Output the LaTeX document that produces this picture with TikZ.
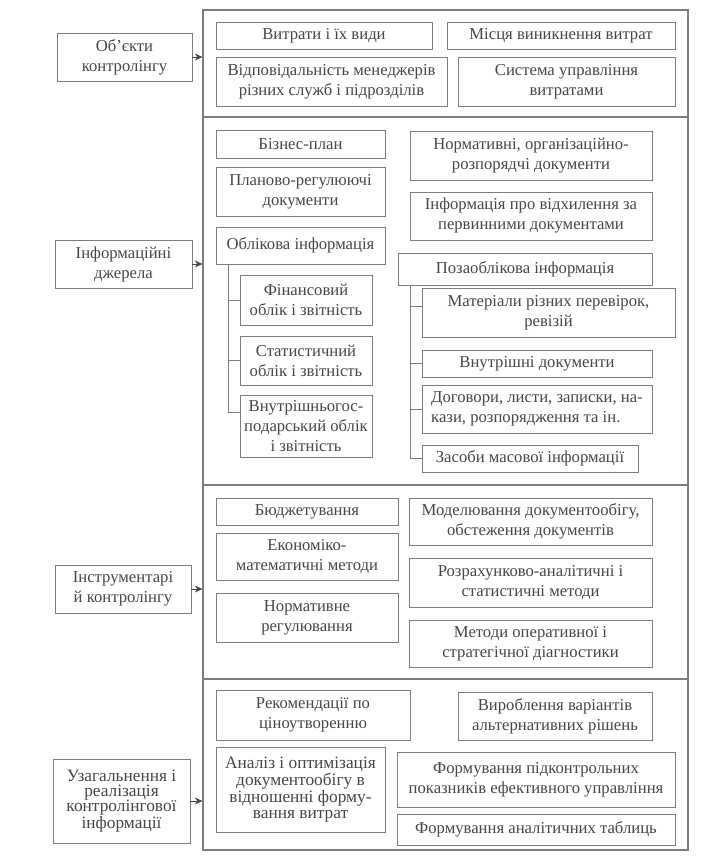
\documentclass[tikz,border=0pt]{standalone}
\usepackage{fontspec}
\setmainfont{Liberation Serif}
\usepackage{xcolor}
\usepackage{tikz}
\usetikzlibrary{arrows.meta}
\definecolor{line}{RGB}{125,125,125}
\definecolor{ink}{RGB}{70,70,70}

\begin{document}
\begin{tikzpicture}[
  x=0.75pt, y=-0.75pt,
  cell/.style={draw=line, align=center, inner sep=1pt, text=ink, font=\fontsize{12.5}{15}\selectfont},
  tight/.style={font=\fontsize{13}{11.5}\selectfont},
  sec/.style={draw=line, thick},
  sz/.style 2 args={minimum width=#1*0.75pt, minimum height=#2*0.75pt},
  link/.style={draw=line},
  arr/.style={-{Stealth[length=2mm,width=1.8mm]}, draw=ink},
]
  \useasboundingbox (0,0) rectangle (700,863);

  % sections of the frame
  \node[sec, sz={485}{107}] (s1) at (445.5,63.5) {};
  \node[sec, sz={485}{368}] (s2) at (445.5,301) {};
  \node[sec, sz={485}{194}] (s3) at (445.5,582) {};
  \node[sec, sz={485}{171}] (s4) at (445.5,764.5) {};

  % left column
  \node[cell, sz={135}{48}] (obj) at (124.5,57) {Об’єкти\\ контролінгу};
  \node[cell, sz={137}{48}] (info) at (123.5,264) {Інформаційні\\ джерела};
  \node[cell, sz={136}{48}] (instr) at (123,589) {Інструментарі\\ й контролінгу};
  \node[cell, tight, sz={137}{84}] (gen) at (121.5,801) {Узагальнення і\\ реалізація\\ контролінгової\\ інформації};

  \draw[arr] (obj.east) -- (obj.east -| s1.west);
  \draw[arr] (info.east) -- (info.east -| s2.west);
  \draw[arr] (instr.east) -- (instr.east -| s3.west);
  \draw[arr] (gen.east) -- (gen.east -| s4.west);

  % objects
  \node[cell, sz={216}{27}] (vyt) at (324,35.5) {Витрати і їх види};
  \node[cell, sz={228}{27}] (mist) at (561,35.5) {Місця виникнення витрат};
  \node[cell, sz={231}{49}] (vidp) at (331.5,81.5) {Відповідальність менеджерів\\ різних служб і підрозділів};
  \node[cell, sz={217}{49}] (syst) at (566.5,81.5) {Система управління\\ витратами};

  % information sources
  \node[cell, sz={169}{28}] (bizn) at (300.5,144) {Бізнес-план};
  \node[cell, sz={169}{49}] (plan) at (300.5,191.5) {Планово-регулюючі\\ документи};
  \node[cell, sz={169}{37}] (oblik) at (300.5,245.5) {Облікова інформація};
  \node[cell, sz={132}{50}] (fin) at (306,300) {Фінансовий\\ облік і звітність};
  \node[cell, sz={132}{49}] (stat) at (306,360.5) {Статистичний\\ облік і звітність};
  \node[cell, sz={132}{62}] (vnutr) at (306,426) {Внутрішньогос-\\ подарський облік\\ і звітність};
  \coordinate (ob) at (228,264);
  \draw[link] (ob) |- (fin.west);
  \draw[link] (ob) |- (stat.west);
  \draw[link] (ob) |- ([yshift=10.5pt]vnutr.west);

  \node[cell, sz={242}{49}] (norm) at (531,155.5) {Нормативні, організаційно-\\ розпорядчі документи};
  \node[cell, sz={242}{48}] (vidh) at (531,216) {Інформація про відхилення за\\ первинними документами};
  \node[cell, sz={254}{32}] (pozaob) at (525,269) {Позаоблікова інформація};
  \node[cell, sz={253}{49}] (mater) at (548.5,312.5) {Матеріали різних перевірок,\\ ревізій};
  \node[cell, sz={230}{27}] (vndoc) at (537,363.5) {Внутрішні документи};
  \node[cell, sz={230}{48}, align=left] (dogov) at (537,409) {Договори, листи, записки, на-\\ кази, розпорядження та ін.};
  \node[cell, sz={216}{27}] (zasob) at (530,458.5) {Засоби масової інформації};
  \coordinate (pz) at (410,285);
  \draw[link] (pz) |- ([yshift=5pt]mater.west);
  \draw[link] (pz) |- (vndoc.west);
  \draw[link] (pz) |- (dogov.west);
  \draw[link] (pz) |- (zasob.west);

  % tools
  \node[cell, sz={182}{27}] (budg) at (307,511.5) {Бюджетування};
  \node[cell, sz={182}{47}] (ekon) at (307,556.5) {Економіко-\\ математичні методи};
  \node[cell, sz={182}{49}] (normreg) at (307,617.5) {Нормативне\\ регулювання};
  \node[cell, sz={243}{47}] (model) at (530.5,521.5) {Моделювання документообігу,\\ обстеження документів};
  \node[cell, sz={243}{49}] (rozr) at (530.5,582.5) {Розрахунково-аналітичні і\\ статистичні методи};
  \node[cell, sz={243}{47}] (metod) at (530.5,643.5) {Методи оперативної і\\ стратегічної діагностики};

  % generalisation
  \node[cell, sz={194}{50}] (rekom) at (313,715) {Рекомендації по\\ ціноутворенню};
  \node[cell, sz={194}{48}] (vyrob) at (555,716) {Вироблення варіантів\\ альтернативних рішень};
  \node[cell, tight, sz={169}{85}] (analiz) at (300.5,789.5) {Аналіз і оптимізація\\ документообігу в\\ відношенні форму-\\ вання витрат};
  \node[cell, sz={278}{55}] (formp) at (536,779.5) {Формування підконтрольних\\ показників ефективного управління};
  \node[cell, sz={278}{31}] (formt) at (536,829.5) {Формування аналітичних таблиць};
\end{tikzpicture}
\end{document}
